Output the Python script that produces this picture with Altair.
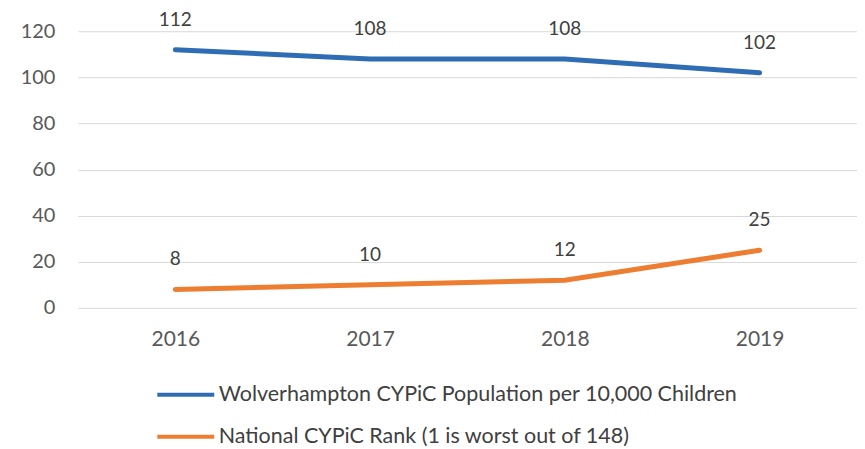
import altair as alt
import pandas as pd

years = ["2016", "2017", "2018", "2019"]
population = [112, 108, 108, 102]
rank = [8, 10, 12, 25]
series_pop = "Wolverhampton CYPiC Population per 10,000 Children"
series_rank = "National CYPiC Rank (1 is worst out of 148)"

df = pd.DataFrame({
    "year": years * 2,
    "value": population + rank,
    "series": [series_pop] * 4 + [series_rank] * 4,
})

FONT = "Lato"

xscale = alt.Scale(type="point", padding=0.5)
x = alt.X("year:N", title=None, scale=xscale,
          axis=alt.Axis(labelAngle=0, labelFontSize=21, labelColor="#595959", labelFont=FONT,
                        domain=False, ticks=False, labelPadding=21, grid=False))
y = alt.Y("value:Q", title=None, scale=alt.Scale(domain=[0, 120], nice=False),
          axis=alt.Axis(values=[0, 20, 40, 60, 80, 100, 120], labelFontSize=20, labelColor="#595959",
                        labelFont=FONT, domain=False, ticks=False, labelPadding=23,
                        grid=True, gridColor="#d9d9d9", gridWidth=1))

color = alt.Color("series:N",
                  scale=alt.Scale(domain=[series_pop, series_rank], range=["#2E6DB4", "#ED7D31"]),
                  legend=alt.Legend(title=None, orient="none", legendX=77, legendY=333,
                                    direction="vertical", symbolType="stroke", symbolSize=3250,
                                    symbolStrokeWidth=4, labelFontSize=21.5, labelFont=FONT,
                                    labelColor="#404040", rowPadding=-8, labelOffset=2,
                                    labelLimit=760))

lines = alt.Chart(df).mark_line(strokeWidth=5, strokeCap="round").encode(x=x, y=y, color=color)
labels = alt.Chart(df).mark_text(dy=-30, fontSize=19, font=FONT, color="#404040", baseline="middle").encode(
    x=alt.X("year:N", scale=xscale), y=alt.Y("value:Q"), text="value:Q")

chart = (lines + labels).properties(
    width=780, height=277,
    autosize=alt.AutoSizeParams(type="none"),
    padding={"left": 70, "top": 23, "right": 0, "bottom": 141},
).configure_view(stroke=None)

chart.save("out.html", embed_options={"renderer": "svg", "actions": False})
